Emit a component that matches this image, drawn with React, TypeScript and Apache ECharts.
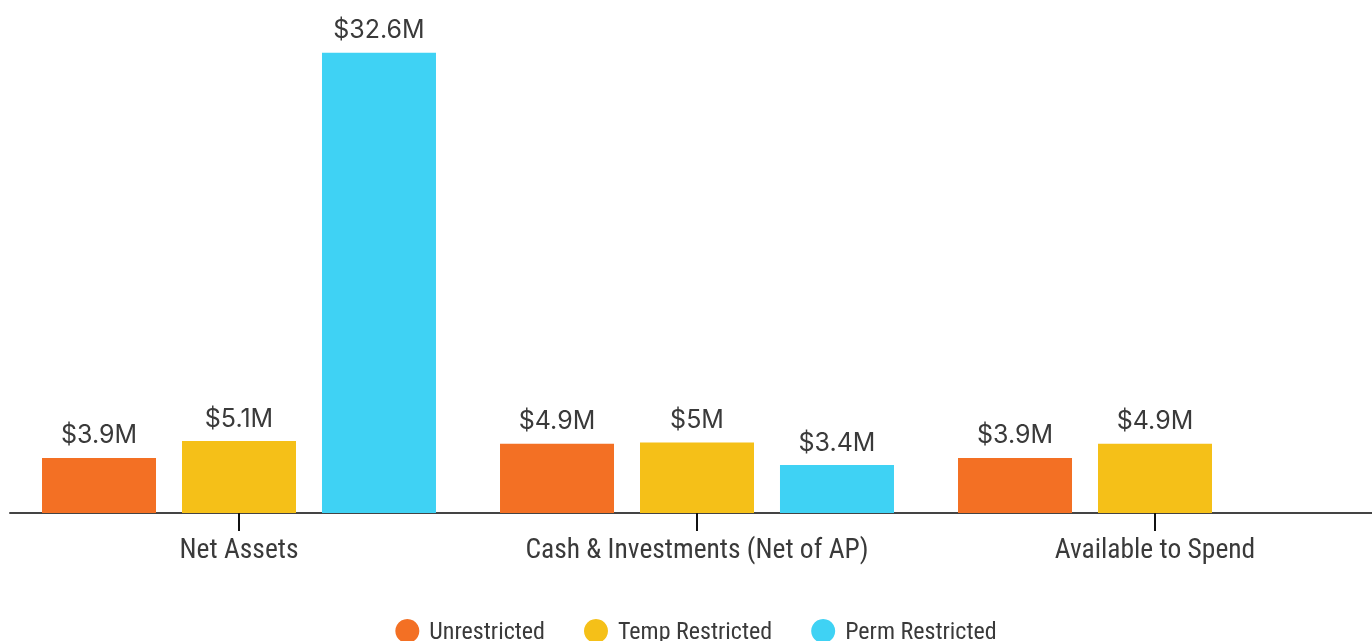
import React, { useEffect, useRef } from "react";
import * as echarts from "echarts";

const categories = ["Net Assets", "Cash & Investments (Net of AP)", "Available to Spend"];
const seriesNames = ["Unrestricted", "Temp Restricted", "Perm Restricted"];
const unrestricted = [3.9, 4.9, 3.9];
const tempRestricted = [5.1, 5.0, 4.9];
const permRestricted: (number | null)[] = [32.6, 3.4, null];
const colors = ["#F37024", "#F5C018", "#3FD2F4"];

export default function App() {
  const ref = useRef<HTMLDivElement>(null);
  useEffect(() => {
    if (!ref.current) return;
    const chart = echarts.init(ref.current, undefined, { renderer: "svg" });
    const data = [unrestricted, tempRestricted, permRestricted];
    chart.setOption({
      animation: false,
      grid: { left: 10, right: 8, top: 19, bottom: 128 },
      legend: {
        top: 614,
        left: "center",
        icon: "circle",
        itemWidth: 24,
        itemHeight: 24,
        itemGap: 39,
        textStyle: {
          fontFamily: "'Roboto Condensed', 'Liberation Sans Narrow', 'Roboto', sans-serif",
          fontSize: 24,
          color: "#3a3a3a",
          padding: [0, 0, 0, 5],
        },
        data: seriesNames,
      },
      xAxis: {
        type: "category",
        data: categories,
        axisLine: { show: true, lineStyle: { color: "#444", width: 2 } },
        axisTick: { show: true, alignWithLabel: true, length: 18, lineStyle: { color: "#111", width: 2 } },
        axisLabel: {
          margin: 21,
          fontFamily: "'Roboto Condensed', 'Liberation Sans Narrow', 'Roboto', sans-serif",
          fontSize: 27.5,
          color: "#3a3a3a",
        },
      },
      yAxis: {
        type: "value",
        min: 0,
        max: 35,
        show: false,
        splitLine: { show: false },
      },
      series: seriesNames.map((name, i) => ({
        name,
        type: "bar",
        data: data[i],
        barWidth: 114,
        barGap: "22.8%",
        itemStyle: { color: colors[i] },
        label: {
          show: true,
          position: "top",
          distance: 11,
          fontFamily: "Inter, Roboto, sans-serif",
          fontSize: 25,
          color: "#3a3a3a",
          formatter: (p: any) => "$" + p.value + "M",
        },
      })),
    });
    return () => chart.dispose();
  }, []);
  return (
    <div
      ref={ref}
      style={{ position: "fixed", left: 0, top: 0, width: 1392, height: 641 }}
    />
  );
}
